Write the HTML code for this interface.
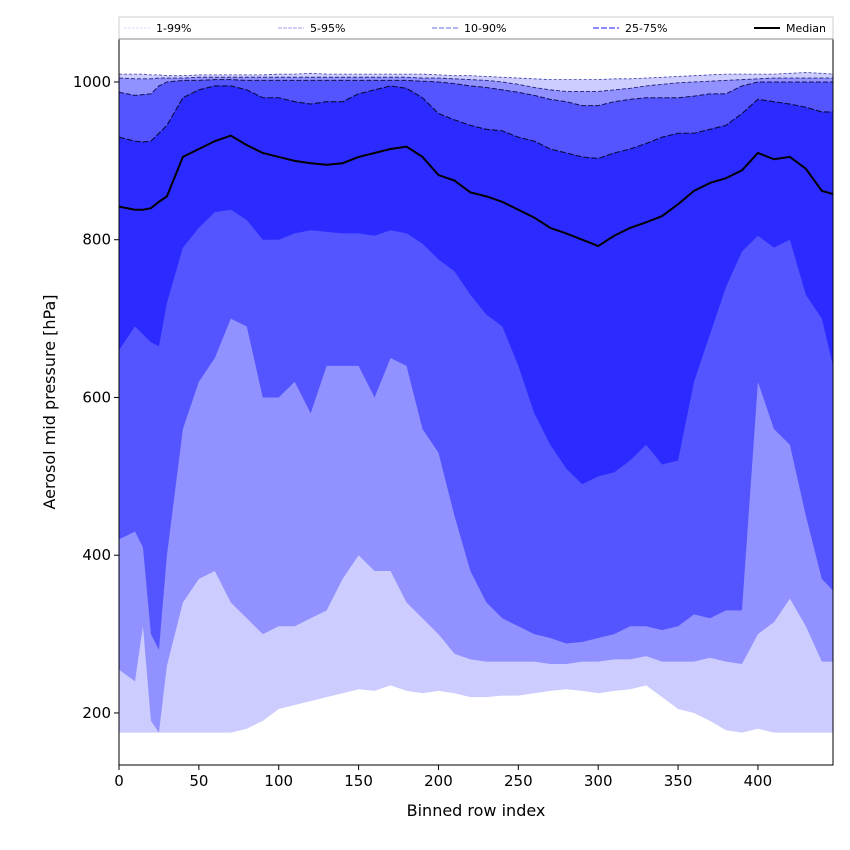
<!DOCTYPE html>
<html><head><meta charset="utf-8"><style>
body{margin:0;background:#fff;}
svg{display:block;font-family:"DejaVu Sans","Liberation Sans",sans-serif;}
</style></head><body>
<svg id="chart" width="850" height="850" viewBox="0 0 850 850"></svg>
<script>
const xs=[0,10,15,20,25,30,40,50,60,70,80,90,100,110,120,130,140,150,160,170,180,190,200,210,220,230,240,250,260,270,280,290,300,310,320,330,340,350,360,370,380,390,400,410,420,430,440,447];
const p1=[175,175,175,175,175,175,175,175,175,175,180,190,205,210,215,220,225,230,228,235,228,225,228,225,220,220,222,222,225,228,230,228,225,228,230,235,220,205,200,190,178,175,180,175,175,175,175,175];
const p5=[255,240,310,190,175,260,340,370,380,340,320,300,310,310,320,330,370,400,380,380,340,320,300,275,268,265,265,265,265,262,262,265,265,268,268,272,265,265,265,270,265,262,300,315,345,310,265,265];
const p10=[420,430,410,300,280,400,560,620,650,700,690,600,600,620,580,640,640,640,600,650,640,560,530,450,380,340,320,310,300,295,288,290,295,300,310,310,305,310,325,320,330,330,620,560,540,450,370,355];
const p25=[660,690,680,670,665,720,790,815,835,838,825,800,800,808,812,810,808,808,805,812,808,795,775,760,730,705,690,640,580,540,510,490,500,505,520,540,515,520,620,680,740,785,805,790,800,730,700,640];
const med=[842,838,838,840,848,855,905,915,925,932,920,910,905,900,897,895,897,905,910,915,918,905,882,875,860,855,848,838,828,815,808,800,792,805,815,822,830,845,862,872,878,888,910,902,905,890,862,858];
const p75=[930,925,924,925,935,945,980,990,995,995,990,980,980,975,972,975,975,985,990,995,992,980,960,952,945,940,938,930,925,915,910,905,903,910,915,922,930,935,935,940,945,960,978,975,972,968,962,962];
const p90=[987,983,984,985,995,1000,1002,1002,1003,1003,1002,1002,1002,1002,1002,1002,1002,1002,1002,1002,1002,1001,1000,998,995,993,990,987,983,978,975,970,970,975,978,980,980,980,982,985,985,995,1000,1000,1000,1000,1000,1000];
const p95=[1005,1004,1004,1004,1005,1005,1005,1006,1006,1006,1006,1006,1006,1006,1006,1006,1006,1006,1006,1006,1006,1005,1005,1004,1003,1002,1000,997,993,990,988,988,988,990,992,995,997,999,1000,1001,1002,1003,1004,1005,1005,1005,1005,1005];
const p99=[1010,1010,1010,1009,1009,1008,1008,1009,1009,1009,1009,1009,1010,1010,1011,1010,1010,1010,1010,1010,1010,1010,1009,1008,1008,1007,1006,1005,1004,1003,1003,1003,1003,1004,1004,1005,1006,1007,1008,1009,1010,1010,1010,1010,1011,1012,1011,1010];
const xTicks=[0,50,100,150,200,250,300,350,400];
const yTicks=[200,400,600,800,1000];

const L=119,R=833,T=39,B=765;
const X0=0,X1=447,Y0=134,Y1=1054.5;
const sx=v=>L+(v-X0)/(X1-X0)*(R-L);
const sy=v=>B-(v-Y0)/(Y1-Y0)*(B-T);
const NS='http://www.w3.org/2000/svg';
const svg=document.getElementById('chart');
function mk(t,a,parent){const e=document.createElementNS(NS,t);for(const k in a)e.setAttribute(k,a[k]);(parent||svg).appendChild(e);return e;}
const clip=mk('clipPath',{id:'pc'});mk('rect',{x:L,y:T,width:R-L,height:B-T},clip);
const g=mk('g',{'clip-path':'url(#pc)'});


function band(lo,hi,col,name){
  let d='M'+xs.map((x,i)=>sx(x)+','+sy(hi[i])).join('L');
  for(let i=xs.length-1;i>=0;i--)d+='L'+sx(xs[i])+','+sy(lo[i]);
  const p=mk('path',{d:d+'Z',fill:col},g);
  
  
}
function line(arr,stroke,w,dash,name){
  const p=mk('path',{d:'M'+xs.map((x,i)=>sx(x)+','+sy(arr[i])).join('L'),fill:'none',stroke:stroke,'stroke-width':w,'stroke-dasharray':dash},g);
  
  
}
band(p1,p99,'#ccccff','band-1-99');
band(p5,p95,'#9191ff','band-5-95');
band(p10,p90,'#5555ff','band-10-90');
band(p25,p75,'#2b2bff','band-25-75');
line(p99,'#3a3aa8',0.8,'3,2','line-p99');
line(p95,'#22227a',0.9,'4,2','line-p95');
line(p90,'#111150',1,'5,2','line-p90');
line(p75,'#0a0a40',1.1,'6,2','line-p75');
line(med,'#000',2,'','median-line');
// axes frame
const fr=mk('rect',{x:L,y:T,width:R-L,height:B-T,fill:'none',stroke:'#000','stroke-width':1});


xTicks.forEach(v=>{
  const x=sx(v);
  const t=mk('line',{x1:x,x2:x,y1:B,y2:B+5,stroke:'#000'});
  
  
  const s=mk('text',{x:x,y:B+21,'font-size':15,'text-anchor':'middle'});s.textContent=v;
  
  
});
yTicks.forEach(v=>{
  const y=sy(v);
  const t=mk('line',{x1:L-5,x2:L,y1:y,y2:y,stroke:'#000'});
  
  
  const s=mk('text',{x:L-8,y:y+5,'font-size':15,'text-anchor':'end'});s.textContent=v;
  
  
});
const xt=mk('text',{x:(L+R)/2,y:816,'font-size':16,'text-anchor':'middle'});xt.textContent='Binned row index';


const yt=mk('text',{x:0,y:0,'font-size':16,'text-anchor':'middle',transform:'translate(55,402) rotate(-90)'});yt.textContent='Aerosol mid pressure [hPa]';


// legend
const lg=mk('g',{});


mk('rect',{x:L,y:17,width:R-L,height:22,fill:'#fff',stroke:'#ccc','stroke-width':1},lg);
mk('line',{x1:L,x2:R,y1:39,y2:39,stroke:'#888'},lg);
const items=[['1-99%','#d0d0ff',0.8,'3,1',124],['5-95%','#a0a0ee',1,'4,1',278],['10-90%','#8888ee',1.2,'5,2',432],['25-75%','#6666ff',1.6,'6,2',593],['Median','#000',2,'',754]];
items.forEach(it=>{
  const e=mk('g',{},lg);
  
  
  mk('line',{x1:it[4],x2:it[4]+26,y1:28,y2:28,stroke:it[1],'stroke-width':it[2],'stroke-dasharray':it[3]},e);
  const t=mk('text',{x:it[4]+32,y:32,'font-size':11},e);t.textContent=it[0];
});
</script>
</body></html>
